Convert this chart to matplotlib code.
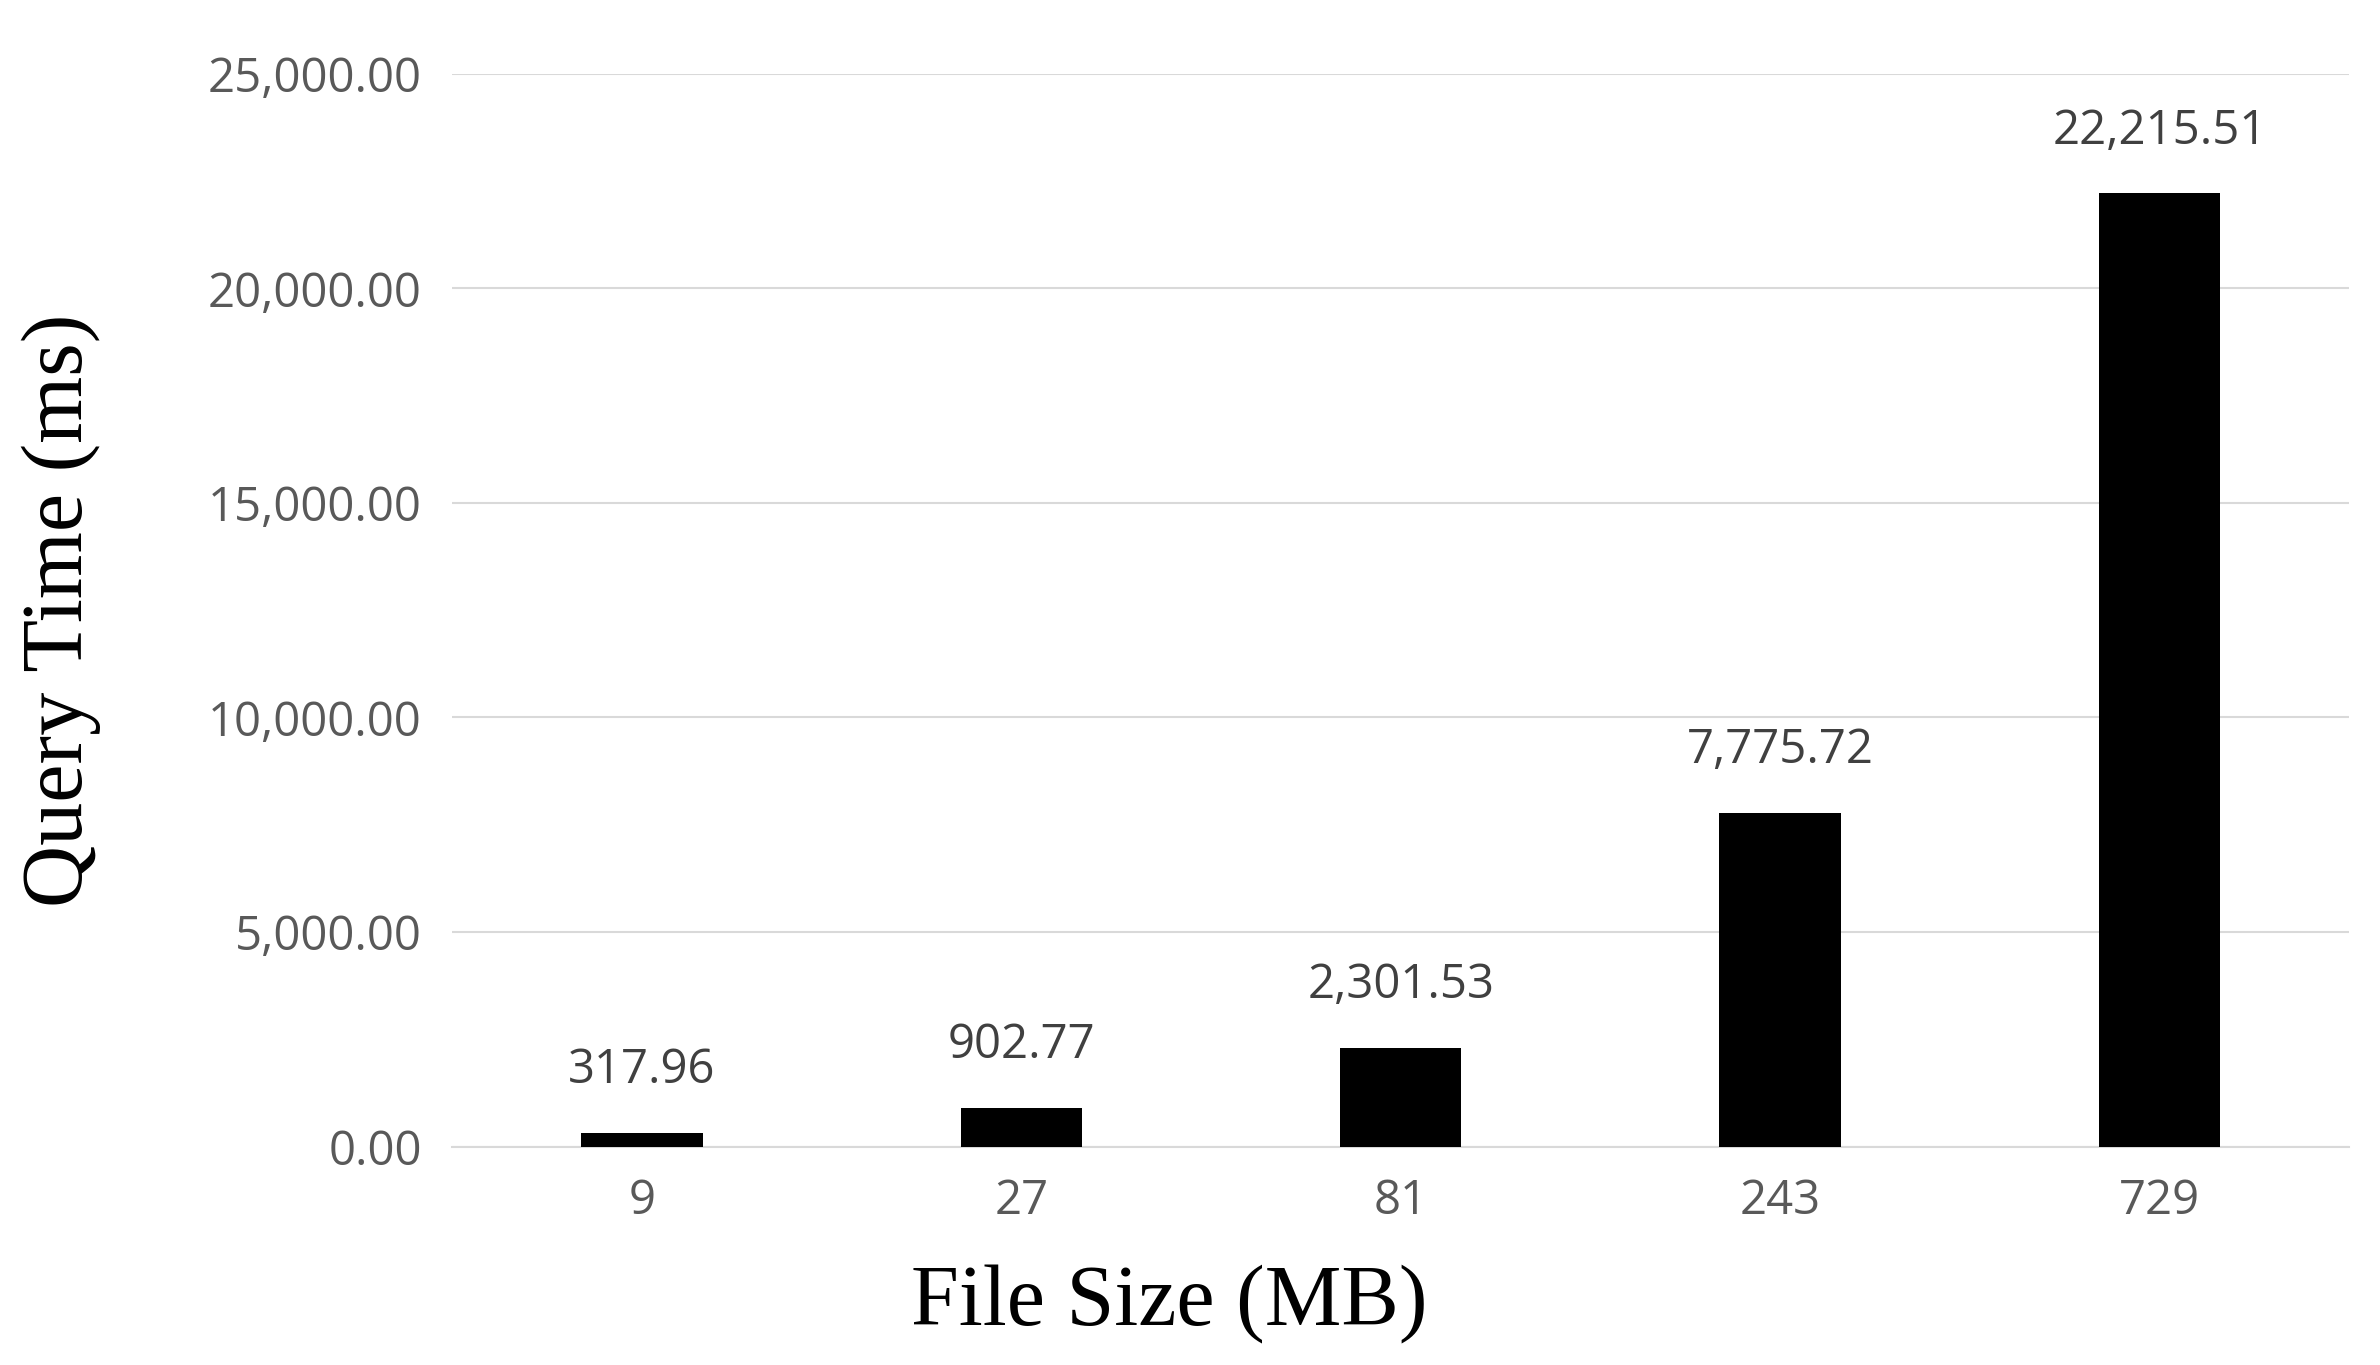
import matplotlib.pyplot as plt
from matplotlib.ticker import FuncFormatter

sizes = ["9", "27", "81", "243", "729"]
query_ms = [317.96, 902.77, 2301.53, 7775.72, 22215.51]
yticks = [0, 5000, 10000, 15000, 20000, 25000]

fig = plt.figure(figsize=(23.8, 13.65), dpi=100)
ax = fig.add_axes([0.19, 0.16, 0.797, 0.786])

x = range(len(sizes))
bars = ax.bar(x, query_ms, width=0.32, color="black", zorder=3)
for b, v in zip(bars, query_ms):
    ax.text(b.get_x() + b.get_width() / 2, v + 900, f"{v:,.2f}",
            ha="center", va="bottom", fontsize=34, color="#404040",
            family="Open Sans")

ax.set_ylim(0, 25000)
ax.set_yticks(yticks)
ax.yaxis.set_major_formatter(FuncFormatter(lambda v, p: f"{v:,.2f}"))
ax.set_xticks(list(x))
ax.set_xticklabels(sizes)
ax.set_xlim(-0.5, len(sizes) - 0.5)
ax.grid(axis="y", color="#d9d9d9", linewidth=1.5, zorder=0)
for s in ["top", "right", "left"]:
    ax.spines[s].set_visible(False)
ax.spines["bottom"].set_color("#d9d9d9")
ax.spines["bottom"].set_linewidth(1.5)
ax.tick_params(length=0, labelsize=34, labelcolor="#595959", pad=22)
for lab in ax.get_xticklabels() + ax.get_yticklabels():
    lab.set_family("Open Sans")

ax.set_xlabel("File Size (MB)", family="Liberation Serif", fontsize=62)
ax.set_ylabel("Query Time (ms)", family="Liberation Serif", fontsize=62)
ax.xaxis.set_label_coords(0.378, -0.11)
ax.yaxis.set_label_coords(-0.185, 0.5)

fig.savefig("out.png", dpi=100)
